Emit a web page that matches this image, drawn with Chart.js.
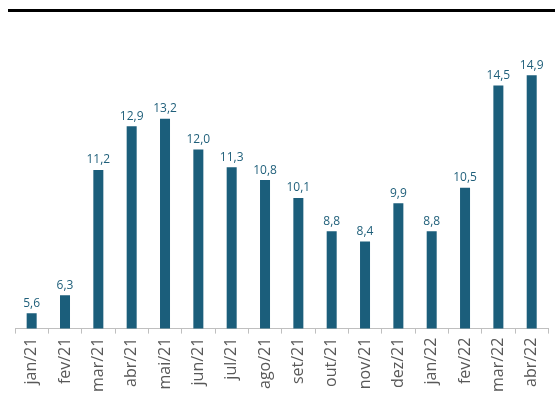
<!DOCTYPE html>
<html>
<head>
<meta charset="utf-8">
<script src="https://cdn.jsdelivr.net/npm/chart.js@4.4.0/dist/chart.umd.min.js"></script>
<style>
  html, body { margin: 0; padding: 0; background: #fff; }
  #wrap { position: relative; width: 555px; height: 396px; }
  #rule { position: absolute; left: 8px; top: 9px; width: 547px; height: 3px; background: #000; }
  #box { position: absolute; left: 0; top: 0; width: 555px; height: 396px; }
</style>
</head>
<body>
<div id="wrap">
  <div id="rule"></div>
  <div id="box"><canvas id="chart"></canvas></div>
</div>
<script>
document.addEventListener("DOMContentLoaded", () => {
    // Monthly series
    const months = ["jan/21", "fev/21", "mar/21", "abr/21", "mai/21", "jun/21", "jul/21", "ago/21",
        "set/21", "out/21", "nov/21", "dez/21", "jan/22", "fev/22", "mar/22", "abr/22"]
    const values = [5.6, 6.3, 11.2, 12.9, 13.2, 12.0, 11.3, 10.8, 10.1, 8.8, 8.4, 9.9, 8.8, 10.5, 14.5, 14.9]

    const barColor = "#1b5e7b"
    const fontFamily = "'Open Sans', 'Noto Sans', sans-serif"

    // writes the value above each bar, with a decimal comma
    const valueLabels = {
        id: "valueLabels",
        afterDatasetsDraw(chart) {
            const ctx = chart.ctx
            const meta = chart.getDatasetMeta(0)
            ctx.save()
            ctx.fillStyle = "#1f5f7a"
            ctx.font = "12px " + fontFamily
            ctx.textAlign = "center"
            ctx.textBaseline = "bottom"
            meta.data.forEach((bar, i) => {
                ctx.fillText(values[i].toFixed(1).replace(".", ","), bar.x, bar.y - 4)
            })
            ctx.restore()
        }
    }

    const ctx = document.getElementById("chart").getContext("2d")
    let chart = new Chart(ctx, {
        type: "bar",
        data: {
            labels: months,
            datasets: [
                {
                    data: values,
                    backgroundColor: barColor,
                    barPercentage: 0.3,
                    categoryPercentage: 1.0
                }
            ]
        },
        options: {
            responsive: true,
            maintainAspectRatio: false,
            animation: false,
            layout: { padding: { left: 15, right: 3, top: 47, bottom: 0 } },
            plugins: {
                legend: { display: false },
                tooltip: { enabled: false }
            },
            scales: {
                x: {
                    offset: true,
                    grid: {
                        offset: true,
                        drawOnChartArea: false,
                        drawTicks: true,
                        tickLength: 5,
                        color: "#bfbfbf"
                    },
                    border: { color: "#bfbfbf" },
                    ticks: {
                        minRotation: 90,
                        maxRotation: 90,
                        color: "#595959",
                        padding: 4,
                        font: { size: 16, family: fontFamily }
                    }
                },
                y: {
                    display: false,
                    min: 5,
                    max: 16
                }
            }
        },
        plugins: [valueLabels]
    })
})
</script>
</body>
</html>
